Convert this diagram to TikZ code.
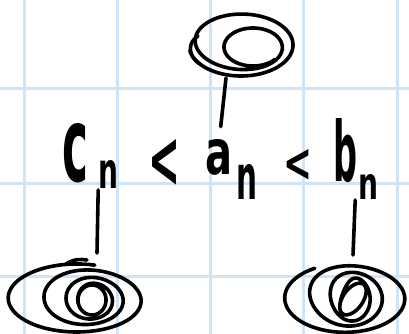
\documentclass[tikz,border=0pt]{standalone}
\usepackage{fontspec}
\newfontfamily\hand{DejaVu Sans}
\usetikzlibrary{calc}
\definecolor{gridblue}{RGB}{208,228,245}
\newcommand\glyph[3]{\resizebox{#1pt}{#2pt}{\hand\bfseries #3}}
\begin{document}
\begin{tikzpicture}[x=1pt,y=-1pt,
  ink/.style={line width=3.6pt, line cap=round, line join=round, black},
  gridline/.style={gridblue, line width=3pt},
  txt/.style={inner sep=0pt, anchor=south west},
  declare function={
    stp(\n,\m)=max(0,min(\m,\n-sin(360*\n)/(2*pi)));
    tl(\s)=35*max(0,1-\s);
  }]
\useasboundingbox (0,0) rectangle (409,334);
\fill[white] (0,0) rectangle (409,334);
% grid
\foreach \gx in {24,117,210,303,397} \draw[gridline] (\gx,0) -- (\gx,334);
\foreach \gy in {89,183,276} \draw[gridline] (0,\gy) -- (409,\gy);

% text
\node[txt] (c)   at (62,183)  {\glyph{26}{58}{c}};
\node[txt] (cs)  at (98,189)  {\glyph{20}{28}{n}};
\node[txt] (lt1) at (148,188) {\glyph{32}{48}{<}};
\node[txt] (a)   at (205,176) {\glyph{27}{35}{a}};
\node[txt] (as)  at (236,200) {\glyph{21}{35}{n}};
\node[txt] (lt2) at (283,182) {\glyph{29}{32}{<}};
\node[txt] (b)   at (333,183) {\glyph{24}{63}{b}};
\node[txt] (bs)  at (358,200) {\glyph{20}{25}{n}};

% spiral attach points
\coordinate (topsp) at (226,78);
\coordinate (blsp) at (97,253);
\coordinate (brsp) at (353,255);

% top spiral (2 loops)
\draw[ink] plot[domain=40:890, samples=300, smooth, variable=\t]
  ({253-12*stp((\t-300)/360,1) + (29+23*stp((\t-300)/360,1))*cos(\t)},
   {47-2*stp((\t-300)/360,1) + (19+12*stp((\t-300)/360,1))*sin(\t)});
\draw[ink] (198,36) .. controls (188,42) and (187,56) .. (200,64);

% bottom-left spiral (4 loops)
\draw[ink] plot[domain=-230:1365, samples=600, smooth, variable=\t]
  ({92-15*(stp((\t-120)/360,3)/3)^2 + 14*pow(1.70,stp((\t-120)/360,3))*cos(\t)},
   {300-2*stp((\t-120)/360,3)/3 + 15*pow(1.314,stp((\t-120)/360,3))*sin(\t)});
\draw[ink] (66,264) .. controls (74,259) and (80,259) .. (87,260);

% bottom-right spiral (4 loops, innermost tilted)
\draw[ink] plot[domain=-280:1320, samples=600, smooth, variable=\t]
  ({353-8*(stp((\t-50)/360,3)/3)^2
     + 10*pow(1.82,stp((\t-50)/360,3))*cos(\t)*cos(tl(stp((\t-50)/360,3)))
     - 18*pow(1.24,stp((\t-50)/360,3))*sin(\t)*sin(tl(stp((\t-50)/360,3)))},
   {299-1*stp((\t-50)/360,3)/3
     + 10*pow(1.82,stp((\t-50)/360,3))*cos(\t)*sin(tl(stp((\t-50)/360,3)))
     + 18*pow(1.24,stp((\t-50)/360,3))*sin(\t)*cos(tl(stp((\t-50)/360,3)))});

% connectors
\draw[ink] (topsp) -- ([xshift=2pt,yshift=13pt]a.north);
\draw[ink] ([xshift=-10pt,yshift=-1pt]cs.south) -- (blsp);
\draw[ink] ([xshift=-13pt]bs.south) -- (brsp);
\end{tikzpicture}
\end{document}
